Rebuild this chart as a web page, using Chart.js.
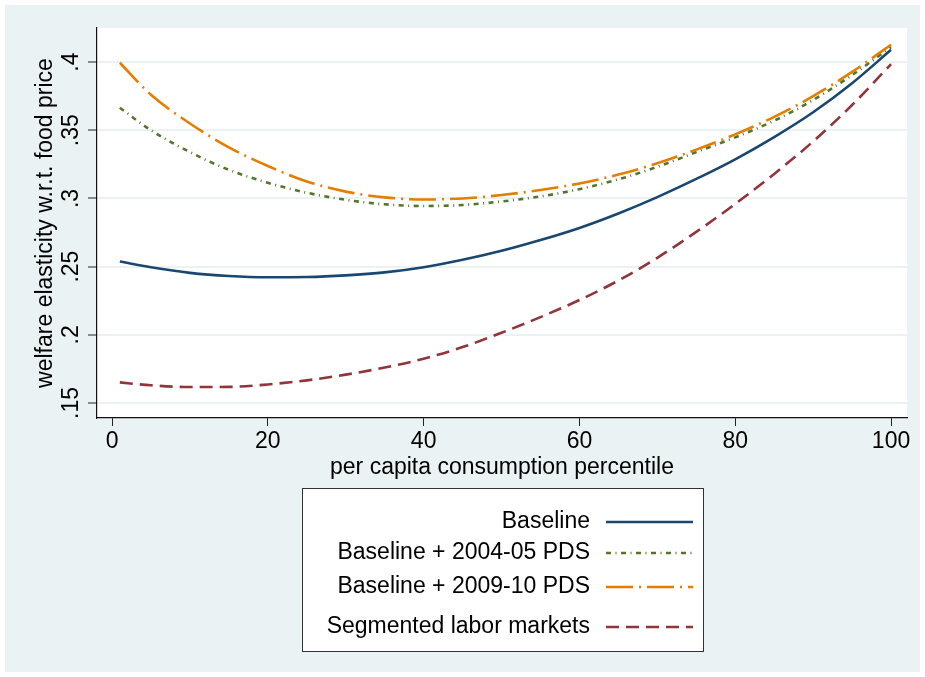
<!DOCTYPE html>
<html>
<head>
<meta charset="utf-8">
<script src="https://cdn.jsdelivr.net/npm/chart.js@4"></script>
<style>
  html, body { margin: 0; padding: 0; background: #fff; }
  canvas { display: block; }
</style>
</head>
<body>
<canvas id="chart" width="925" height="677"></canvas>
<script>
const percentiles = [1, 5, 10, 15, 20, 25, 30, 35, 40, 45, 50, 55, 60, 65, 70, 75, 80, 85, 90, 95, 100];

const baseline = [0.2537, 0.2495, 0.2454, 0.2431, 0.2422, 0.2424, 0.2436, 0.2458, 0.2496, 0.2550, 0.2616,
  0.2695, 0.2784, 0.2890, 0.3010, 0.3143, 0.3287, 0.3450, 0.3632, 0.3845, 0.4090];
const pds2004 = [0.3665, 0.3500, 0.3340, 0.3210, 0.3115, 0.3042, 0.2990, 0.2957, 0.2945, 0.2952, 0.2978,
  0.3015, 0.3068, 0.3140, 0.3232, 0.3340, 0.3448, 0.3570, 0.3722, 0.3905, 0.4110];
const pds2009 = [0.3995, 0.3760, 0.3550, 0.3375, 0.3238, 0.3125, 0.3050, 0.3008, 0.2992, 0.3000, 0.3025,
  0.3062, 0.3110, 0.3175, 0.3258, 0.3358, 0.3470, 0.3598, 0.3750, 0.3928, 0.4127];
const segmented = [0.1651, 0.1630, 0.1617, 0.1618, 0.1636, 0.1666, 0.1708, 0.1760, 0.1825, 0.1910, 0.2015,
  0.2130, 0.2255, 0.2398, 0.2565, 0.2755, 0.2960, 0.3180, 0.3418, 0.3685, 0.3985];

const seriesNames = ['Baseline', 'Baseline + 2004-05 PDS', 'Baseline + 2009-10 PDS', 'Segmented labor markets'];
const xTicks = [0, 20, 40, 60, 80, 100];
const yTicks = [0.15, 0.2, 0.25, 0.3, 0.35, 0.4];

const font = { family: "'Liberation Sans', Arial, sans-serif", size: 23 };
const pts = vals => percentiles.map((p, i) => ({ x: p, y: vals[i] }));

// stata-like frame: bluish graph region, white plot region, boxed legend below
const stataFrame = {
  id: 'stataFrame',
  beforeDraw(chart) {
    const { ctx, chartArea: a } = chart;
    ctx.save();
    ctx.fillStyle = '#ffffff';
    ctx.fillRect(0, 0, chart.width, chart.height);
    ctx.fillStyle = '#eaf2f3';
    ctx.fillRect(5, 5, chart.width - 10, chart.height - 10);
    ctx.fillStyle = '#ffffff';
    ctx.fillRect(a.left, a.top, a.right - a.left, a.bottom - a.top);
    ctx.restore();
  },
  afterDraw(chart) {
    const ctx = chart.ctx;
    const rowY = [522, 553, 587, 627];
    ctx.save();
    ctx.fillStyle = '#ffffff';
    ctx.fillRect(302, 488, 401, 163);
    ctx.strokeStyle = '#333333';
    ctx.lineWidth = 1;
    ctx.strokeRect(302.5, 488.5, 401, 163);
    ctx.font = "23px 'Liberation Sans', Arial, sans-serif";
    ctx.textAlign = 'right';
    ctx.textBaseline = 'middle';
    chart.data.datasets.forEach((ds, i) => {
      const y = rowY[i];
      ctx.fillStyle = '#000';
      ctx.fillText(ds.label, 590, y);
      ctx.beginPath();
      ctx.setLineDash(ds.borderDash || []);
      ctx.lineWidth = ds.borderWidth;
      ctx.strokeStyle = ds.borderColor;
      ctx.moveTo(606, y);
      ctx.lineTo(693, y);
      ctx.stroke();
    });
    ctx.restore();
  }
};

new Chart(document.getElementById('chart'), {
  type: 'line',
  data: {
    datasets: [
      { label: seriesNames[0], data: pts(baseline), borderColor: '#1a476f', borderWidth: 2.6, borderDash: [], order: 4 },
      { label: seriesNames[1], data: pts(pds2004), borderColor: '#55752f', borderWidth: 2.6, borderDash: [5, 4.5, 1, 4.5], order: 3 },
      { label: seriesNames[2], data: pts(pds2009), borderColor: '#e37e00', borderWidth: 2.6, borderDash: [27, 6, 2, 6], order: 2 },
      { label: seriesNames[3], data: pts(segmented), borderColor: '#90353b', borderWidth: 2.6, borderDash: [13, 7], order: 1 }
    ]
  },
  options: {
    responsive: false,
    animation: false,
    devicePixelRatio: 1,
    layout: { padding: { left: 5, top: 28, right: 18, bottom: 187 } },
    elements: {
      point: { radius: 0 },
      line: { cubicInterpolationMode: 'monotone', fill: false, borderCapStyle: 'butt' }
    },
    plugins: { legend: { display: false }, tooltip: { enabled: false } },
    scales: {
      x: {
        type: 'linear',
        min: -1.93,
        max: 102.05,
        afterBuildTicks: s => { s.ticks = xTicks.map(v => ({ value: v })); },
        afterFit: s => { s.height = 72; },
        grid: { drawOnChartArea: false, tickColor: '#222', tickLength: 8, tickWidth: 1 },
        border: { color: '#111', width: 1.2 },
        ticks: { font, color: '#000', padding: 1.5, maxRotation: 0, autoSkip: false },
        title: { display: true, text: 'per capita consumption percentile', font, color: '#000', padding: { top: 0, bottom: 9 } }
      },
      y: {
        type: 'linear',
        min: 0.139,
        max: 0.425,
        afterBuildTicks: s => { s.ticks = yTicks.map(v => ({ value: v })); },
        afterFit: s => { s.width = 92; },
        grid: { color: '#eaf2f3', lineWidth: 2, tickColor: '#222', tickLength: 9, tickWidth: 1 },
        border: { color: '#111', width: 1.2 },
        ticks: {
          font, color: '#000', minRotation: 90, maxRotation: 90, crossAlign: 'center', padding: 0, autoSkip: false,
          callback: v => v.toFixed(2).replace(/0+$/, '').replace(/^0/, '')
        },
        title: { display: true, text: 'welfare elasticity w.r.t. food price', font, color: '#000', padding: { top: 27, bottom: 0 } }
      }
    }
  },
  plugins: [stataFrame]
});
</script>
</body>
</html>
